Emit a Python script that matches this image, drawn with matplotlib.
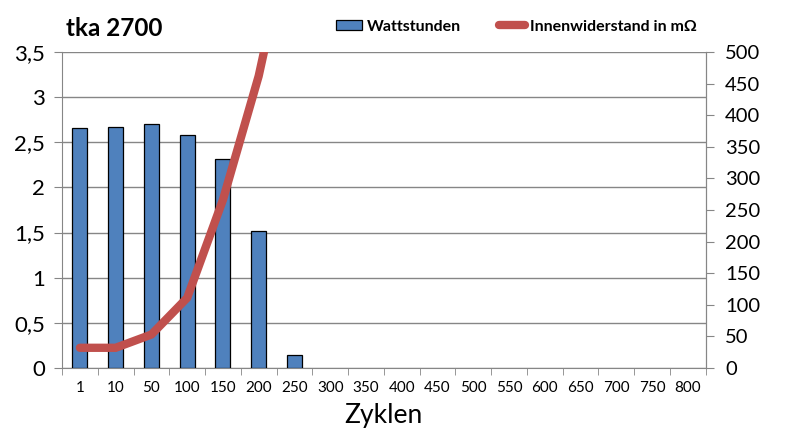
import matplotlib.pyplot as plt
import numpy as np

plt.rcParams['font.family'] = ['Lato', 'DejaVu Sans']

# Daten
zyklen = ['1', '10', '50', '100', '150', '200', '250', '300', '350', '400',
          '450', '500', '550', '600', '650', '700', '750', '800']
wattstunden = [2.66, 2.67, 2.70, 2.58, 2.31, 1.52, 0.14]
innenwiderstand = [32, 32, 53, 111, 266, 462, 720]

left_ticks = [0, 0.5, 1, 1.5, 2, 2.5, 3, 3.5]
left_labels = ['0', '0,5', '1', '1,5', '2', '2,5', '3', '3,5']
right_ticks = list(range(0, 501, 50))

grau = '#868686'

fig = plt.figure(figsize=(7.92, 4.47), dpi=100)
ax = fig.add_axes([0.0783, 0.1767, 0.8127, 0.707])
ax2 = ax.twinx()

x = np.arange(len(zyklen))
ax.bar(x[:len(wattstunden)], wattstunden, width=0.42, color='#4F81BD',
       edgecolor='black', linewidth=0.9, zorder=3, label='Wattstunden')
ax2.plot(x[:len(innenwiderstand)], innenwiderstand, color='#C0504D', lw=6,
         solid_capstyle='round', solid_joinstyle='miter', label='Innenwiderstand in mΩ')

ax.set_xlim(-0.5, len(zyklen) - 0.5)
ax.set_ylim(0, 3.5)
ax2.set_ylim(0, 500)

ax.set_yticks(left_ticks)
ax.set_yticklabels(left_labels, fontsize=16)
ax2.set_yticks(right_ticks)
ax2.set_yticklabels([str(v) for v in right_ticks], fontsize=14.5)

ax.set_xticks(x)
ax.set_xticklabels(zyklen, fontsize=11)
ax.set_xticks(np.arange(-0.5, len(zyklen)), minor=True)
ax.tick_params(axis='x', which='major', length=0, pad=9)
ax.tick_params(axis='x', which='minor', length=5, color=grau)
ax.tick_params(axis='y', length=6, color=grau, pad=6)
ax2.tick_params(axis='y', length=6, color=grau, pad=8)

ax.yaxis.grid(True, color=grau, lw=1)
ax.set_axisbelow(True)

for a in (ax, ax2):
    a.spines['top'].set_visible(False)
    for s in ('left', 'right', 'bottom'):
        a.spines[s].set_color(grau)
ax2.spines['left'].set_visible(False)
ax2.spines['bottom'].set_visible(False)

ax.set_xlabel('Zyklen', fontsize=19, labelpad=6)

fig.text(0.083, 0.937, 'tka 2700', fontsize=17.5, fontweight='bold', va='center')

h1, l1 = ax.get_legend_handles_labels()
h2, l2 = ax2.get_legend_handles_labels()
leg = fig.legend(h1 + h2, l1 + l2, loc='center', bbox_to_anchor=(0.652, 0.94),
                 ncol=2, frameon=False, prop={'weight': 'bold', 'size': 11.5},
                 handlelength=1.6, handleheight=0.6, handletextpad=0.3, columnspacing=2.4)

fig.savefig('out.png', dpi=100)
